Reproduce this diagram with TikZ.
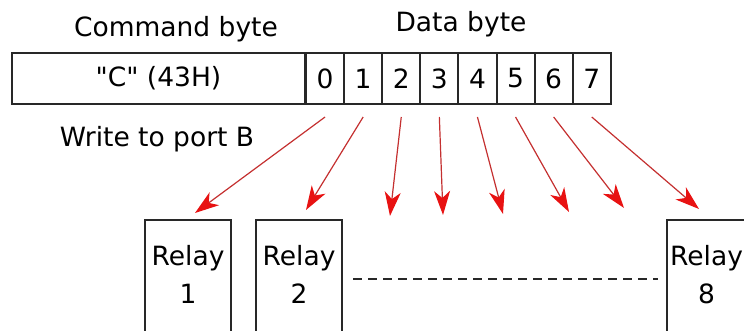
\documentclass[tikz,border=0pt]{standalone}
\usepackage{fontspec}
\setmainfont{DejaVu Sans}
\usetikzlibrary{arrows.meta,positioning}
\definecolor{arrowred}{RGB}{232,18,18}
\definecolor{linered}{RGB}{196,48,48}
\definecolor{boxgray}{RGB}{40,40,40}

\begin{document}
\begin{tikzpicture}[x=1pt,y=-1pt,>=Stealth, every node/.style={font=\fontsize{26.5}{38}\selectfont}]
    \tikzset{field/.style={draw=boxgray,line width=2pt,minimum height=51pt,inner sep=0pt}}
    \tikzset{bitcell/.style={field,minimum width=38.1pt}}
    \tikzset{relay/.style={draw=boxgray,line width=2pt,minimum width=86pt,minimum height=118pt}}
    \tikzset{rlabel/.style={align=center,inner sep=0pt}}
    \tikzset{signal/.style={-{Stealth[length=24pt,width=16pt,inset=7pt,color=arrowred]},linered,line width=1.2pt}}

    \useasboundingbox (0,0) rectangle (744,331);

    % Command byte and data byte
    \node[anchor=base] (cmdlabel) at (176,37) {Command byte};
    \node[anchor=base] (datalabel) at (461,32) {Data byte};
    \node[field,minimum width=293pt] (cmd) at (158.5,78.5) {\textquotedbl C\textquotedbl\ (43H)};
    \foreach \i in {0,...,7}
        \node[bitcell,anchor=west] (d\i) at ({305+38.1*\i},78.5) {\i};
    \node[anchor=base] (portlabel) at (157,147) {Write to port B};

    % Relays (cut off by the page edge)
    \node[relay] (r1) at (188,279) {};
    \node[relay] (r2) at (299,279) {};
    \node[relay] (r8) at (710,279) {};
    \node[rlabel,anchor=base] (l1) at (188,303) {Relay\\1};
    \node[rlabel,anchor=base] (l2) at (299,303) {Relay\\2};
    \node[rlabel,anchor=base] (l8) at (706.5,303) {Relay\\8};
    \draw[boxgray,line width=1.6pt,dash pattern=on 9pt off 6pt] ([xshift=10pt]r2.east) -- ([xshift=-8pt]r8.west);

    % One arrow per bit
    \foreach \i/\tx/\ty in {0/195/213,1/306/210,2/390/216,3/443/215,4/503/214,5/569/212,6/624/208,7/699/209}{
        \coordinate (tip\i) at (\tx,\ty);
        \draw[signal] ([yshift=-12pt]d\i.south) -- (tip\i);
    }
\end{tikzpicture}
\end{document}
